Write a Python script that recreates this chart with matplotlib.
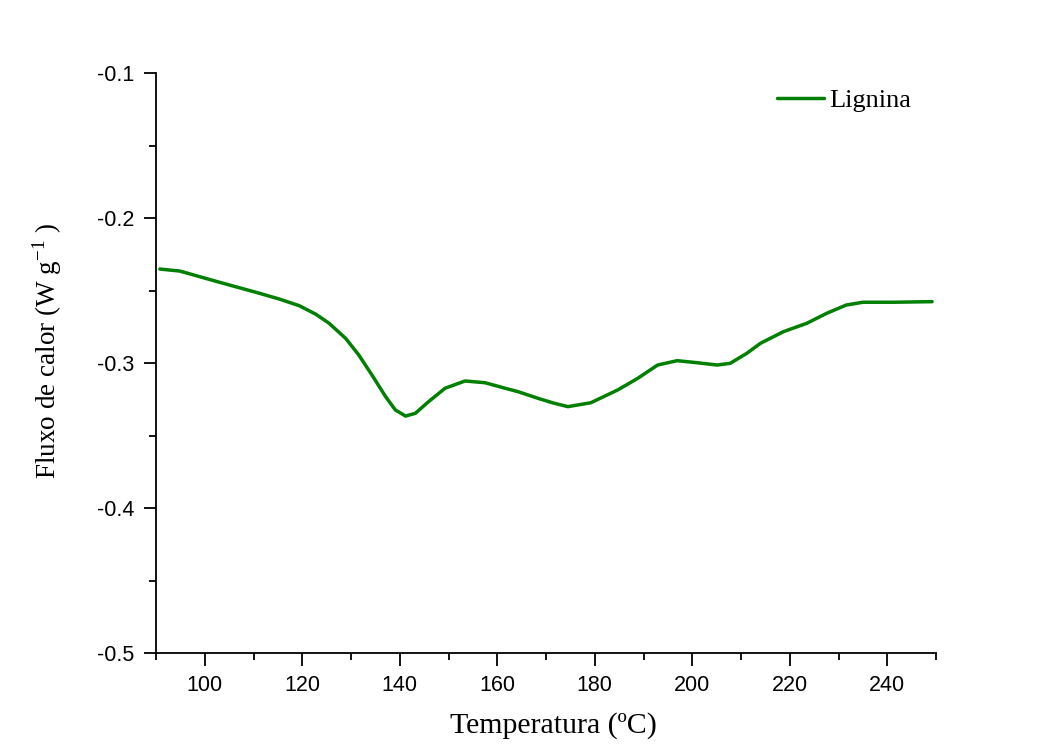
import matplotlib.pyplot as plt
from matplotlib.ticker import MultipleLocator

# curva DSC
temperatura = [90.8, 94.9, 99.0, 103.1, 107.1, 111.2, 115.3, 119.4, 122.8, 125.5,
               128.9, 131.6, 134.3, 137.1, 139.1, 141.2, 143.2, 145.9, 149.3, 153.4,
               157.5, 161.6, 164.3, 168.4, 171.5, 174.5, 179.2, 184.7, 188.8, 192.9,
               196.9, 201.0, 205.1, 207.8, 211.2, 214.0, 218.7, 223.5, 227.6, 231.6,
               235.0, 241.2, 249.2]
fluxo = [-0.2352, -0.2366, -0.2405, -0.2444, -0.2481, -0.2519, -0.2559, -0.2605, -0.2664, -0.2726,
         -0.2830, -0.2945, -0.3083, -0.3232, -0.3324, -0.3366, -0.3347, -0.3267, -0.3174, -0.3124,
         -0.3136, -0.3174, -0.3198, -0.3244, -0.3276, -0.3301, -0.3274, -0.3186, -0.3106, -0.3014,
         -0.2984, -0.2998, -0.3014, -0.3002, -0.2933, -0.2864, -0.2784, -0.2726, -0.2657, -0.2600,
         -0.2581, -0.2581, -0.2577]

fig = plt.figure(figsize=(10.46, 7.46), dpi=100)
ax = fig.add_axes([156 / 1046, 1 - 653 / 746, 780 / 1046, 580 / 746])

ax.plot(temperatura, fluxo, color='#008000', lw=2.5, label='Lignina',
        solid_joinstyle='round', solid_capstyle='round')

ax.set_xlim(90, 250)
ax.set_ylim(-0.5, -0.1)
ax.xaxis.set_minor_locator(MultipleLocator(10))
ax.yaxis.set_minor_locator(MultipleLocator(0.05))
ax.set_xticks([100, 120, 140, 160, 180, 200, 220, 240])
ax.set_yticks([-0.5, -0.4, -0.3, -0.2, -0.1])
ax.set_yticklabels(['-0.5', '-0.4', '-0.3', '-0.2', '-0.1'])

for s in ['top', 'right']:
    ax.spines[s].set_visible(False)
for s in ['left', 'bottom']:
    ax.spines[s].set_linewidth(1.3)

ax.tick_params(which='major', direction='out', length=9, width=1.3, pad=6.5,
               labelsize=15.5)
ax.tick_params(which='minor', direction='out', length=5, width=1.3)
for lab in ax.get_xticklabels() + ax.get_yticklabels():
    lab.set_fontfamily('Liberation Sans')

ax.set_xlabel('Temperatura (ºC)', family='Liberation Serif', fontsize=21.5)
ax.set_ylabel(r'Fluxo de calor (W g$^{\mathregular{-1}}$ )', family='Liberation Serif',
              fontsize=19.5)
ax.xaxis.set_label_coords(0.5096, -0.102)
ax.yaxis.set_label_coords(-0.118, 0.521)

leg = ax.legend(loc='center left', bbox_to_anchor=(0.796, 0.953), frameon=False,
                borderpad=0, borderaxespad=0, handlelength=1.8, handletextpad=0.2,
                prop={'family': 'Liberation Serif', 'size': 19})

fig.savefig('out.png', dpi=100, facecolor='white')
